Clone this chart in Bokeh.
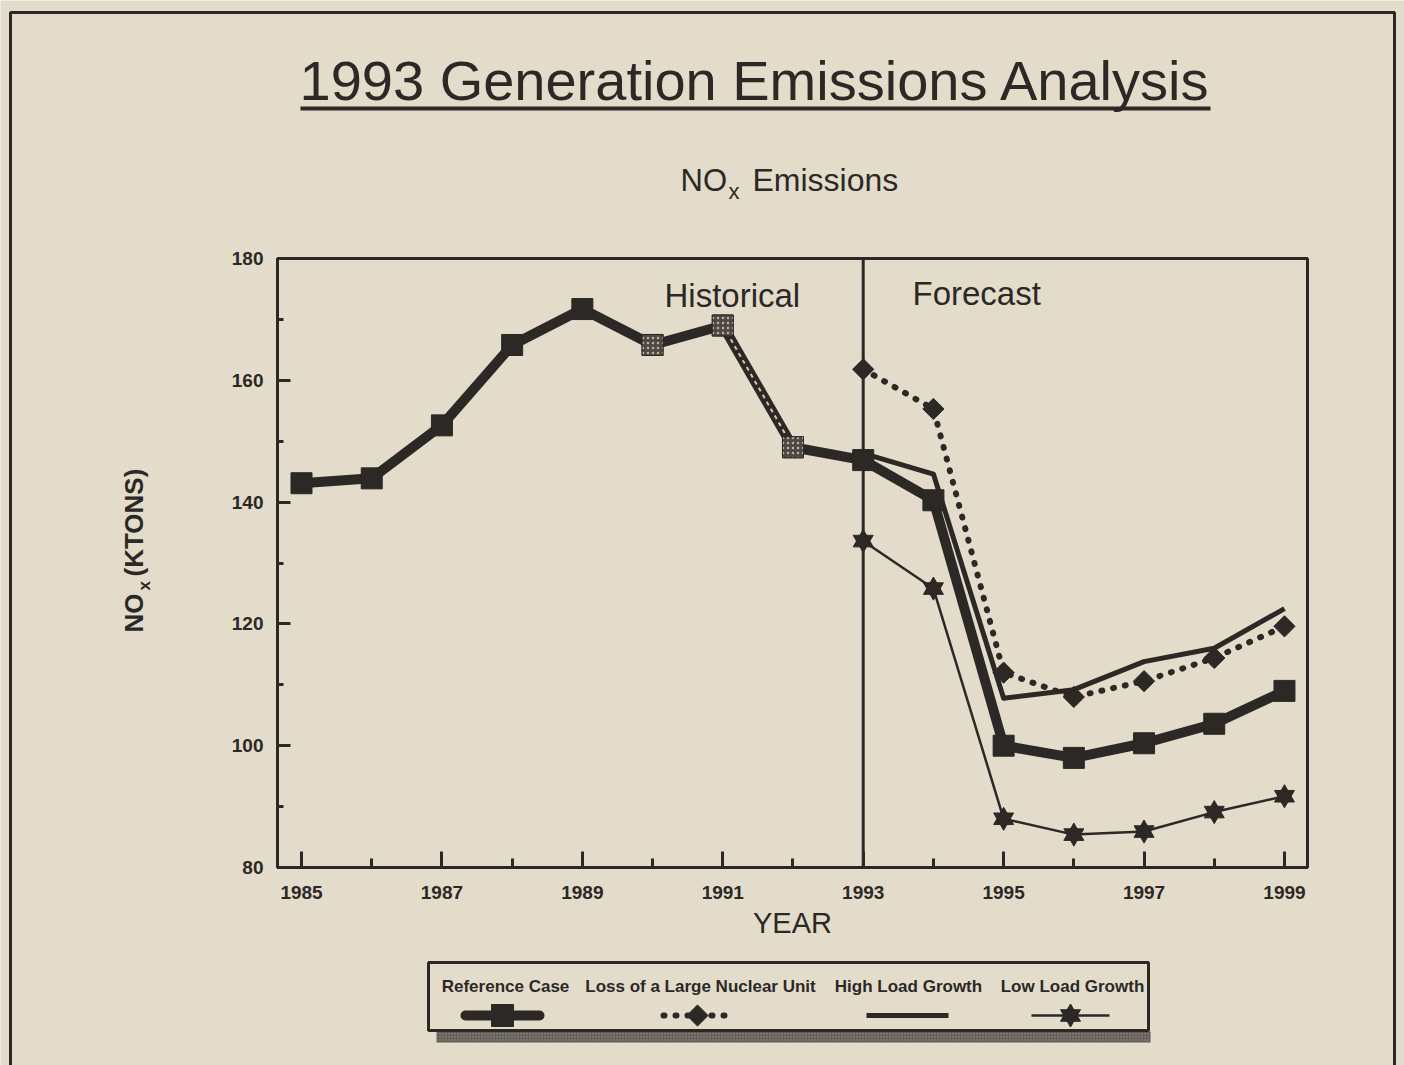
import math
from bokeh.plotting import figure
from bokeh.models import (Range1d, FixedTicker, Label, BoxAnnotation,
                          LinearAxis)
from bokeh.embed import file_html
from bokeh.resources import INLINE

# ---------------- data ----------------
years = [1985, 1986, 1987, 1988, 1989, 1990, 1991, 1992,
         1993, 1994, 1995, 1996, 1997, 1998, 1999]
forecast_years = [1993, 1994, 1995, 1996, 1997, 1998, 1999]

reference_case = [143.1, 143.9, 152.6, 165.8, 171.7, 165.8, 169.0, 149.0,
                  146.9, 140.3, 100.0, 98.0, 100.4, 103.6, 109.0]
loss_of_nuclear = [161.8, 155.3, 112.0, 108.0, 110.6, 114.4, 119.6]
high_load_growth = [148.0, 144.6, 107.8, 109.2, 113.8, 116.0, 122.5]
low_load_growth = [133.6, 125.8, 88.0, 85.4, 85.9, 89.1, 91.7]

x_major_ticks = [1985, 1987, 1989, 1991, 1993, 1995, 1997, 1999]
x_minor_ticks = [1986, 1988, 1990, 1992, 1994, 1996, 1998]
y_major_ticks = [80, 100, 120, 140, 160, 180]
y_minor_ticks = [90, 110, 130, 150, 170]
divider_year = 1993

legend_labels = ["Reference Case", "Loss of a Large Nuclear Unit",
                 "High Load Growth", "Low Load Growth"]

# ---------------- styling / layout ----------------
PAPER = "#e3dccb"
INK = "#2b2826"
FONT = "Liberation Sans"

W, H = 1404, 1065                      # canvas = page coordinates
FL, FT, FR, FB = 277, 258, 1307, 867   # chart box in page pixels
X0, X1 = 1984.658, 1999.328            # data limits of the chart box
Y0, Y1 = 80, 180

# extend the data ranges so that the chart box lands on FL..FR / FT..FB
kx = (X1 - X0) / (FR - FL)
ky = (Y1 - Y0) / (FB - FT)
xr = Range1d(X0 - FL * kx, X1 + (W - FR) * kx)
yr = Range1d(Y0 - (H - FB) * ky, Y1 + FT * ky)

p = figure(width=W, height=H, x_range=Range1d(0, W), y_range=Range1d(H, 0),
           x_axis_type=None, y_axis_type=None, min_border=0,
           output_backend="svg", toolbar_location=None)
p.extra_x_ranges = {"xr": xr}
p.extra_y_ranges = {"yr": yr}
p.background_fill_color = PAPER
p.border_fill_color = PAPER
p.outline_line_color = None
p.xgrid.visible = False
p.ygrid.visible = False

# chart box
p.add_layout(BoxAnnotation(left=FL, right=FR, top=FT, bottom=FB,
                           fill_alpha=0, line_color=INK, line_alpha=1,
                           line_width=3))

# axes (library axes bound to the data ranges)
xa = LinearAxis(x_range_name="xr", y_range_name="yr", fixed_location=Y0,
                bounds=(X0, X1),
                ticker=FixedTicker(ticks=x_major_ticks,
                                   minor_ticks=x_minor_ticks))
ya = LinearAxis(x_range_name="xr", y_range_name="yr", fixed_location=X0,
                bounds=(Y0, Y1),
                ticker=FixedTicker(ticks=y_major_ticks,
                                   minor_ticks=y_minor_ticks))
for ax, tin, mtin, standoff in ((xa, 16, 9, 18), (ya, 13, 6, 14)):
    ax.axis_line_color = INK
    ax.axis_line_width = 3
    ax.major_tick_in = tin
    ax.major_tick_out = 0
    ax.minor_tick_in = mtin
    ax.minor_tick_out = 0
    ax.major_tick_line_width = 3
    ax.minor_tick_line_width = 3
    ax.major_tick_line_color = INK
    ax.minor_tick_line_color = INK
    ax.major_label_text_font = FONT
    ax.major_label_text_font_style = "bold"
    ax.major_label_text_font_size = "19px"
    ax.major_label_text_color = INK
    ax.major_label_standoff = standoff
p.add_layout(xa, "below")
p.add_layout(ya, "left")

# historical / forecast divider
p.segment(x0=[divider_year], y0=[Y0], x1=[divider_year], y1=[Y1],
          x_range_name="xr", y_range_name="yr", line_color=INK, line_width=3)

# ---------------- series ----------------
RN = dict(x_range_name="xr", y_range_name="yr")

p.line(forecast_years, high_load_growth, line_color=INK, line_width=5,
       line_join="round", **RN)

p.line(forecast_years, low_load_growth, line_color=INK, line_width=2.5,
       line_join="round", **RN)
for mk in ("triangle", "inverted_triangle"):
    p.scatter(forecast_years, low_load_growth, marker=mk, size=20,
              fill_color=INK, line_color=INK, **RN)

p.line(forecast_years, loss_of_nuclear, line_color=INK, line_width=6,
       line_dash="1 11", line_cap="round", **RN)
p.scatter(forecast_years, loss_of_nuclear, marker="square",
          angle=math.pi / 4, size=15, fill_color=INK, line_color=INK, **RN)

p.line(years, reference_case, line_color=INK, line_width=10,
       line_join="round", line_cap="round", **RN)
p.scatter(years, reference_case, marker="square", size=21,
          fill_color=INK, line_color=INK, **RN)
# speckled look of the scanned 1990-1992 points
p.line(years[6:8], reference_case[6:8], line_color="#cfc8b6",
       line_width=2, line_dash="4 4", **RN)
p.scatter(years[5:8], reference_case[5:8], marker="square", size=21,
          fill_color="#4d4843", line_color=INK, hatch_pattern="dot",
          hatch_color="#b9b2a1", hatch_scale=5, hatch_weight=1.5, **RN)


# ---------------- texts ----------------
BASE_SHIFT = 0.37   # svg text baseline correction (fraction of font size)


def add_label(text, px, py, size, align="left", style="normal", angle=0.0):
    # (px, py) is the wanted baseline point; move it "up" in text frame
    off = BASE_SHIFT * size
    ax_ = px - off * math.sin(angle)
    ay_ = py - off * math.cos(angle)
    p.add_layout(Label(x=ax_, y=ay_, text=text, text_align=align,
                       text_baseline="alphabetic", text_font=FONT,
                       text_font_size=f"{size}px", text_font_style=style,
                       text_color=INK, angle=angle))


# page border
p.add_layout(BoxAnnotation(left=10, right=1394, top=12, bottom=H + 20,
                           fill_alpha=0, line_color=INK, line_alpha=1,
                           line_width=3))

add_label("1993 Generation Emissions Analysis", 755, 101, 56, align="center")
p.add_layout(BoxAnnotation(left=300, right=1210, top=106, bottom=110,
                           fill_color=INK, fill_alpha=1, line_alpha=0))

add_label("NO", 680, 191, 31)
add_label("x", 728, 199, 22)
add_label("Emissions", 752, 191, 32)

add_label("Historical", 664, 307, 33)
add_label("Forecast", 912, 305, 33)
add_label("YEAR", 792, 933, 29, align="center")

add_label("NO", 143, 632, 26, style="bold", angle=math.pi / 2)
add_label("x", 150, 590, 17, style="bold", angle=math.pi / 2)
add_label("(KTONS)", 143, 576, 26, style="bold", angle=math.pi / 2)

# ---------------- legend ----------------
LEG_L, LEG_R, LEG_T, LEG_B = 428, 1148, 962, 1030
p.add_layout(BoxAnnotation(left=436, right=1150, top=LEG_B + 1, bottom=1042,
                           fill_color="#625e57", fill_alpha=1, line_alpha=0,
                           hatch_pattern="dot", hatch_color="#9e988b",
                           hatch_scale=3, hatch_weight=1))
p.add_layout(BoxAnnotation(left=LEG_L, right=LEG_R, top=LEG_T, bottom=LEG_B,
                           fill_alpha=0, line_color=INK, line_alpha=1,
                           line_width=3))

label_centers = [505, 700, 908, 1072]
for txt, cx in zip(legend_labels, label_centers):
    add_label(txt, cx, 992, 17, align="center", style="bold")

GY = 1015                                   # legend glyph row
glyph_centers = [502, 697, 907, 1070]
glyph_half = [37, 34, 41, 39]
c, hw = glyph_centers[0], glyph_half[0]
p.line([c - hw, c + hw], [GY, GY], line_color=INK, line_width=10,
       line_cap="round")
p.scatter([c], [GY], marker="square", size=22, fill_color=INK,
          line_color=INK)
c, hw = glyph_centers[1], glyph_half[1]
p.line([c - hw, c + hw], [GY, GY], line_color=INK, line_width=6,
       line_dash="1 11", line_cap="round")
p.scatter([c], [GY], marker="square", angle=math.pi / 4, size=15,
          fill_color=INK, line_color=INK)
c, hw = glyph_centers[2], glyph_half[2]
p.line([c - hw, c + hw], [GY, GY], line_color=INK, line_width=5)
c, hw = glyph_centers[3], glyph_half[3]
p.line([c - hw, c + hw], [GY, GY], line_color=INK, line_width=2.5)
for mk in ("triangle", "inverted_triangle"):
    p.scatter([c], [GY], marker=mk, size=20, fill_color=INK, line_color=INK)

open("out.html", "w").write(file_html(p, INLINE))
